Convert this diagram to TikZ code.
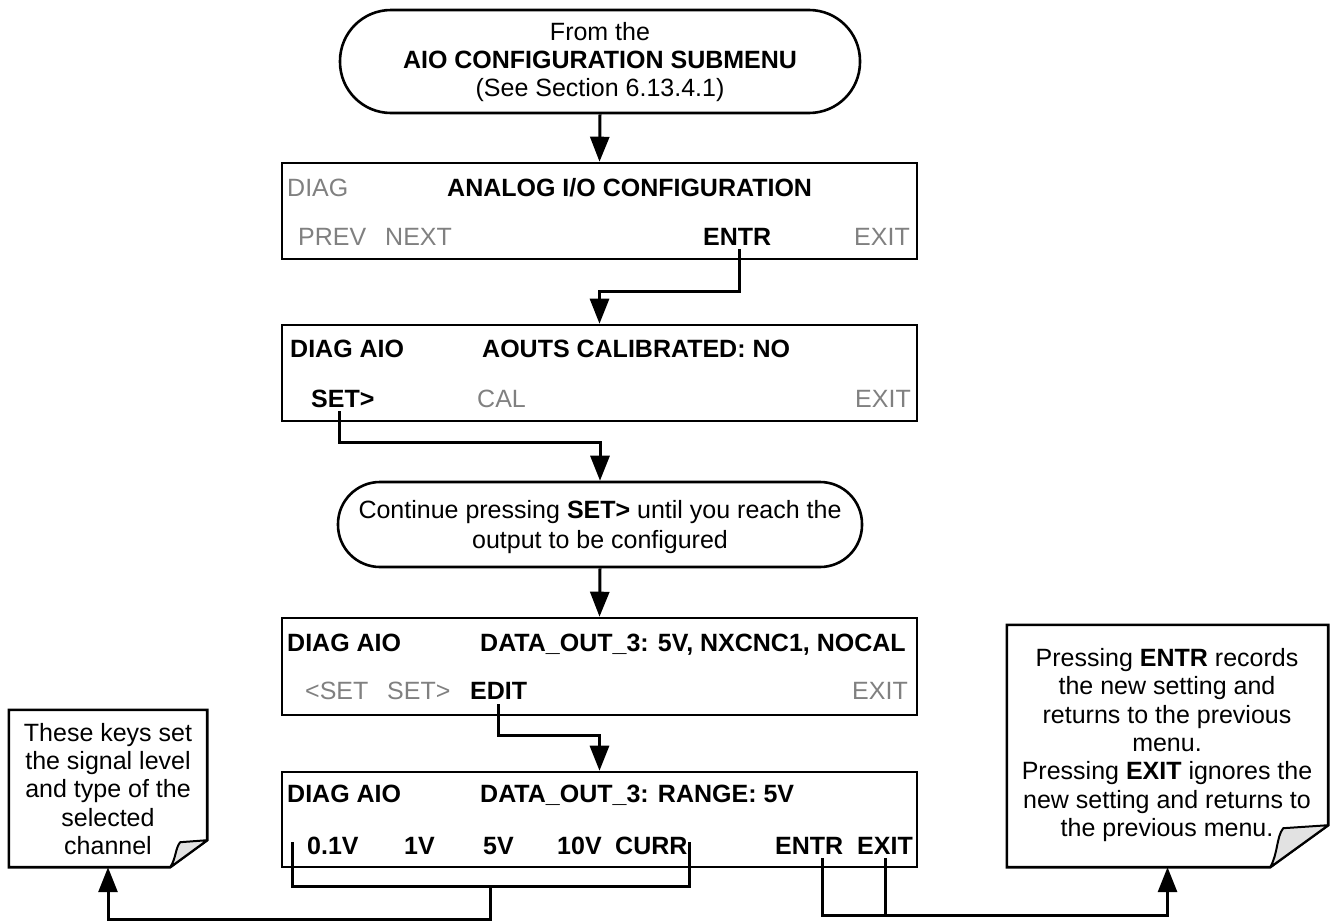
\documentclass[tikz,border=0pt]{standalone}
\usepackage{fontspec}
\setmainfont{Liberation Sans}
\usetikzlibrary{arrows.meta,calc}
\definecolor{keygray}{HTML}{808080}
\definecolor{curlgray}{HTML}{E2E2E2}
\tikzset{
  fs/.style={font=\fontsize{25}{28.3}\selectfont},
  lbl/.style={inner sep=0pt, anchor=base west, fs},
  bl/.style={lbl, font=\fontsize{25}{28.3}\selectfont\bfseries},
  gl/.style={lbl, text=keygray},
  screen/.style={draw, line width=2.6pt, inner sep=0pt, minimum width=635pt},
  term/.style={draw, line width=2.6pt, inner sep=0pt},
  txt/.style={inner sep=0pt, align=center, fs},
  conn/.style={line width=3pt},
  arr/.style={conn, -{Triangle[length=25pt,width=19pt]}},
  notebox/.style={draw, line width=2.6pt, line join=miter},
  curl/.style={draw, line width=2pt, fill=curlgray, line join=round},
}
\begin{document}
\begin{tikzpicture}[x=1pt,y=-1pt]
\useasboundingbox (0,0) rectangle (1330,921);

% ---- terminal 1
\node[term, rounded corners=51pt, minimum width=520pt, minimum height=103pt] (t1) at (600,61.5) {};
\node[txt] (t1t) at (600,62) {From the\\\textbf{AIO CONFIGURATION SUBMENU}\\(See Section 6.13.4.1)};

% ---- screen 1
\node[screen, minimum height=96pt] (b1) at (599.5,211) {};
\node[gl] (b1a) at (287,196) {DIAG};
\node[bl] (b1b) at (447,196) {ANALOG I/O CONFIGURATION};
\node[gl] (b1c) at (298,245) {PREV};
\node[gl] (b1d) at (385,245) {NEXT};
\node[bl] (b1e) at (703,245) {ENTR};
\node[gl, anchor=base east] (b1f) at (910,245) {EXIT};

% ---- screen 2
\node[screen, minimum height=96pt] (b2) at (599.5,373) {};
\node[bl] (b2a) at (290,357) {DIAG AIO};
\node[bl] (b2b) at (482,357) {AOUTS CALIBRATED: NO};
\node[bl] (b2c) at (311,407) {SET>};
\node[gl] (b2d) at (477,407) {CAL};
\node[gl, anchor=base east] (b2e) at (911,407) {EXIT};

% ---- terminal 2
\node[term, rounded corners=42pt, minimum width=524pt, minimum height=85pt] (t2) at (600,524.5) {};
\node[txt, font=\fontsize{25}{30}\selectfont] (t2t) at (600,527) {Continue pressing \textbf{SET>} until you reach the\\output to be configured};

% ---- screen 3
\node[screen, minimum height=97pt] (b3) at (599.5,666.5) {};
\node[bl] (b3a) at (287,651) {DIAG AIO};
\node[bl] (b3b) at (480,651) {DATA\_OUT\_3: 5V, NXCNC1, NOCAL};
\node[gl] (b3c) at (305,699) {<SET};
\node[gl] (b3d) at (387,699) {SET>};
\node[bl] (b3e) at (470,699) {EDIT};
\node[gl, anchor=base east] (b3f) at (908,699) {EXIT};

% ---- screen 4
\node[screen, minimum height=95pt] (b4) at (599.5,819.5) {};
\node[bl] (b4a) at (287,802) {DIAG AIO};
\node[bl] (b4b) at (480,802) {DATA\_OUT\_3: RANGE: 5V};
\node[bl] (b4c) at (307,854) {0.1V};
\node[bl] (b4d) at (404,854) {1V};
\node[bl] (b4e) at (483,854) {5V};
\node[bl] (b4f) at (557,854) {10V};
\node[bl] (b4g) at (615,854) {CURR};
\node[bl] (b4h) at (775,854) {ENTR};
\node[bl] (b4i) at (857,854) {EXIT};

% ---- note 1
\node[inner sep=0pt, minimum width=198pt, minimum height=157pt] (n1) at (108,788.5) {};
\draw[notebox] (n1.north west) -- (n1.north east) -- ($(n1.south east)+(0,-27)$)
  -- ($(n1.south east)+(-37,0)$) -- (n1.south west) -- cycle;
\draw[curl] ($(n1.south east)+(-37,0)$) .. controls ($(n1.south east)+(-31,-9)$) and ($(n1.south east)+(-32,-19)$) .. ($(n1.south east)+(-27,-25)$) -- ($(n1.south east)+(0,-27)$) -- cycle;
\node[txt] (n1t) at (108,789) {These keys set\\the signal level\\and type of the\\selected\\channel};

% ---- note 2
\node[inner sep=0pt, minimum width=321pt, minimum height=242pt] (n2) at (1167.5,746) {};
\draw[notebox] (n2.north west) -- (n2.north east) -- ($(n2.south east)+(0,-42)$)
  -- ($(n2.south east)+(-58,0)$) -- (n2.south west) -- cycle;
\draw[curl] ($(n2.south east)+(-58,0)$) .. controls ($(n2.south east)+(-50,-14)$) and ($(n2.south east)+(-52,-30)$) .. ($(n2.south east)+(-45,-39)$) -- ($(n2.south east)+(0,-42)$) -- cycle;
\node[txt] (n2t) at (1167,745) {Pressing \textbf{ENTR} records\\the new setting and\\returns to the previous\\menu.\\Pressing \textbf{EXIT} ignores the\\new setting and returns to\\the previous menu.};

% ---- connectors
\coordinate (c1) at (739,249);
\coordinate (c2) at (339,411);
\coordinate (c3) at (498,704);
\coordinate (k1) at (292,842);
\coordinate (k2) at (689,842);
\coordinate (k3) at (490,886);
\coordinate (r1) at (822,858);
\coordinate (r2) at (885,858);

\draw[arr] (t1.south) -- (b1.north);
\draw[arr] (c1) -- ++(0,42) -| (b2.north);
\draw[arr] (c2) -- ++(0,31) -| (t2.north);
\draw[arr] (t2.south) -- (b3.north);
\draw[arr] (c3) -- ++(0,31) -| (b4.north);
\draw[conn] (k1) -- ++(0,44) -| (k2);
\draw[arr] (k3) -- ++(0,33) -| (n1.south);
\draw[conn] (r2) -- ++(0,57);
\draw[arr] (r1) -- ++(0,57) -| (n2.south);
\end{tikzpicture}
\end{document}
